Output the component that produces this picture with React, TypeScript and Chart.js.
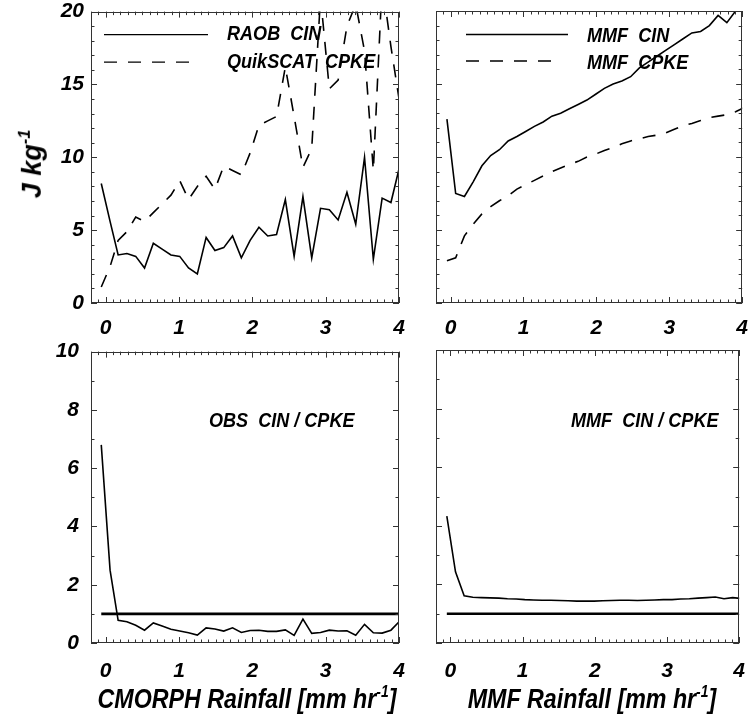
import React, { useEffect, useRef } from 'react';
import { Chart, registerables } from 'chart.js';
Chart.register(...registerables);

// ---------- data ----------
const xObs = [-0.06, 0.06, 0.17, 0.29, 0.41, 0.53, 0.65, 0.77, 0.89, 1.01, 1.13, 1.25, 1.37, 1.49, 1.61, 1.73, 1.85, 1.97, 2.09, 2.21, 2.33, 2.45, 2.57, 2.69, 2.81, 2.93, 3.05, 3.17, 3.29, 3.41, 3.53, 3.65, 3.77, 3.89, 4.01];
const raobCin = [8.2, 5.6, 3.3, 3.4, 3.2, 2.4, 4.1, 3.7, 3.3, 3.2, 2.4, 2.0, 4.5, 3.6, 3.8, 4.6, 3.1, 4.3, 5.2, 4.6, 4.7, 7.1, 3.2, 7.3, 3.1, 6.5, 6.4, 5.7, 7.6, 5.4, 10.0, 3.0, 7.2, 6.9, 9.4];
const quikscatCpke = [1.1, 2.5, 4.3, 4.9, 5.9, 5.6, 6.2, 6.8, 7.4, 8.4, 7.1, 8.0, 8.7, 7.8, 9.4, 9.1, 8.8, 10.3, 12.2, 12.5, 12.8, 16.2, 12.8, 9.3, 10.6, 21.0, 14.7, 15.3, 19.0, 20.5, 17.3, 9.1, 22.0, 17.6, 13.7];
const obsRatio = [6.8, 2.5, 0.78, 0.73, 0.61, 0.44, 0.69, 0.58, 0.47, 0.41, 0.35, 0.27, 0.52, 0.48, 0.41, 0.52, 0.36, 0.43, 0.44, 0.40, 0.40, 0.45, 0.26, 0.82, 0.33, 0.36, 0.44, 0.41, 0.42, 0.27, 0.64, 0.35, 0.34, 0.44, 0.75];

const xMmf = [-0.05, 0.07, 0.19, 0.31, 0.43, 0.55, 0.67, 0.79, 0.91, 1.03, 1.15, 1.27, 1.39, 1.51, 1.63, 1.75, 1.87, 1.99, 2.11, 2.23, 2.35, 2.47, 2.59, 2.71, 2.83, 2.95, 3.07, 3.19, 3.31, 3.43, 3.55, 3.67, 3.79, 3.91, 4.03];
const mmfCin = [12.6, 7.5, 7.3, 8.3, 9.4, 10.1, 10.5, 11.1, 11.4, 11.75, 12.1, 12.4, 12.8, 13.0, 13.3, 13.6, 13.9, 14.3, 14.7, 15.0, 15.2, 15.5, 16.1, 16.5, 16.9, 17.3, 17.7, 18.1, 18.5, 18.6, 19.0, 19.7, 19.2, 20.0, 20.7];
const mmfCpke = [2.9, 3.1, 4.6, 5.4, 6.1, 6.6, 7.0, 7.35, 7.8, 8.1, 8.4, 8.7, 9.0, 9.25, 9.5, 9.7, 10.0, 10.2, 10.45, 10.65, 10.9, 11.1, 11.25, 11.4, 11.5, 11.65, 11.9, 12.15, 12.3, 12.5, 12.7, 12.8, 12.9, 13.1, 13.4];
const mmfRatio = [4.33, 2.43, 1.61, 1.56, 1.55, 1.54, 1.53, 1.51, 1.5, 1.48, 1.47, 1.46, 1.46, 1.45, 1.44, 1.43, 1.43, 1.43, 1.44, 1.45, 1.46, 1.46, 1.45, 1.46, 1.47, 1.48, 1.48, 1.5, 1.51, 1.53, 1.55, 1.57, 1.51, 1.55, 1.52];

const obsRefX = [-0.06, 4.0];
const mmfRefX = [-0.05, 4.0];
const refLevel = [1.0, 1.0];

const xTicks = [0, 1, 2, 3, 4];
const yTicksTop = [0, 5, 10, 15, 20];
const yTicksBottom = [0, 2, 4, 6, 8, 10];

// ---------- styling ----------
const FAMILY = "'Liberation Sans', Arial, Helvetica, sans-serif";
const DASH = [13, 11];
const CONDENSE = 0.86;

const pts = (xs: number[], ys: number[]) => xs.map((x, i) => ({ x, y: ys[i] }));

const frameTicks = {
  id: 'frameTicks',
  afterDatasetsDraw(chart: any, _args: any, opts: any) {
    const { ctx, chartArea: a, scales } = chart;
    const x = scales.x, y = scales.y;
    ctx.save();
    ctx.strokeStyle = '#333';
    ctx.lineWidth = 1;
    ctx.strokeRect(Math.round(a.left) + 0.5, Math.round(a.top) + 0.5, Math.round(a.right - a.left) - 1, Math.round(a.bottom - a.top) - 1);
    const isMajor = (v: number, majors: number[]) => majors.some((m) => Math.abs(m - v) < 1e-6);
    ctx.beginPath();
    const nx = Math.round((x.max - x.min) / opts.xMinor);
    for (let i = 0; i <= nx; i++) {
      const v = x.min + i * opts.xMinor;
      const len = isMajor(v, opts.xMajor) ? 6 : 3.5;
      const px = Math.round(x.getPixelForValue(v)) + 0.5;
      ctx.moveTo(px, a.bottom); ctx.lineTo(px, a.bottom - len);
      ctx.moveTo(px, a.top); ctx.lineTo(px, a.top + len);
    }
    const ny = Math.round((y.max - y.min) / opts.yMinor);
    for (let i = 0; i <= ny; i++) {
      const v = y.min + i * opts.yMinor;
      const len = isMajor(v, opts.yMajor) ? 6 : 3.5;
      const py = Math.round(y.getPixelForValue(v)) + 0.5;
      ctx.moveTo(a.left, py); ctx.lineTo(a.left + len, py);
      ctx.moveTo(a.right, py); ctx.lineTo(a.right - len, py);
    }
    ctx.stroke();
    (opts.legend || []).forEach((l: any) => {
      ctx.beginPath();
      ctx.setLineDash(l.dash ? DASH : []);
      ctx.lineWidth = 1.4;
      ctx.strokeStyle = '#000';
      ctx.moveTo(a.left + l.x1, a.top + l.y);
      ctx.lineTo(a.left + l.x2, a.top + l.y);
      ctx.stroke();
    });
    ctx.restore();
  },
};

type PanelProps = {
  left: number; top: number; ml: number; mt: number; mr: number; mb: number;
  boxW: number; boxH: number; yMax: number; yMajor: number[]; showY: boolean;
  xPad: number; yPad: number; datasets: any[]; legend?: any[];
};

function Panel(p: PanelProps) {
  const ref = useRef<HTMLCanvasElement>(null);
  const W = p.ml + p.boxW + p.mr;
  const H = p.mt + p.boxH + p.mb;
  useEffect(() => {
    if (!ref.current) return;
    const font = { family: FAMILY, size: 21, style: 'italic' as const, weight: 'bold' as const };
    const chart = new Chart(ref.current, {
      type: 'line',
      data: { datasets: p.datasets },
      options: {
        animation: false,
        responsive: false,
        devicePixelRatio: 1,
        layout: { padding: { left: 0, top: p.mt, right: p.mr, bottom: 0 } },
        plugins: { legend: { display: false }, tooltip: { enabled: false }, frameTicks: { xMinor: 0.1, xMajor: xTicks, yMinor: 1, yMajor: p.yMajor, legend: p.legend } } as any,
        elements: { point: { radius: 0 }, line: { tension: 0 } },
        scales: {
          x: {
            type: 'linear', min: -0.2, max: 4,
            grid: { display: false }, border: { display: false },
            ticks: { font, color: '#000', padding: p.xPad, autoSkip: false, maxRotation: 0, callback: (v: any) => String(v) },
            afterBuildTicks: (s: any) => { s.ticks = xTicks.map((v) => ({ value: v })); },
            afterFit: (s: any) => { s.height = p.mb; },
          },
          y: {
            type: 'linear', min: 0, max: p.yMax,
            grid: { display: false }, border: { display: false },
            ticks: { display: p.showY, font, color: '#000', padding: p.yPad, callback: (v: any) => String(v) },
            afterBuildTicks: (s: any) => { s.ticks = p.yMajor.map((v) => ({ value: v })); },
            afterFit: (s: any) => { s.width = p.ml; },
          },
        },
      },
      plugins: [frameTicks],
    });
    return () => chart.destroy();
  }, []);
  return (
    <canvas ref={ref} width={W} height={H}
      style={{ position: 'absolute', left: p.left - p.ml, top: p.top - p.mt, width: W, height: H }} />
  );
}

const lineDs = (xs: number[], ys: number[], dashed = false, width = 1.6) => ({
  data: pts(xs, ys), borderColor: '#000', borderWidth: width, borderDash: dashed ? DASH : [],
  pointRadius: 0, fill: false, clip: 0,
});

const txt = (extra: any): any => ({
  position: 'absolute', fontFamily: FAMILY, fontStyle: 'italic', fontWeight: 'bold',
  color: '#000', whiteSpace: 'pre', lineHeight: 1, ...extra,
});
const sup: any = { fontSize: '60%', verticalAlign: '0.7em', lineHeight: 1 };
const leftLabel = (left: number, top: number, size: number) =>
  txt({ left, top, fontSize: size, transformOrigin: '0 50%', transform: `translateY(-50%) scaleX(${CONDENSE})` });

export default function App() {
  return (
    <div style={{ position: 'absolute', left: 0, top: 0, width: 753, height: 715, background: '#fff', overflow: 'hidden' }}>
      <Panel left={91} top={11} ml={91} mt={11} mr={15} mb={40} boxW={308} boxH={292} yMax={20}
        yMajor={yTicksTop} showY xPad={5} yPad={-1}
        datasets={[lineDs(xObs, raobCin), lineDs(xObs, quikscatCpke, true)]}
        legend={[{ x1: 13, x2: 117, y: 23, dash: false }, { x1: 13, x2: 104, y: 50.5, dash: true }]} />
      <Panel left={436} top={11} ml={20} mt={11} mr={9} mb={40} boxW={308} boxH={292} yMax={20}
        yMajor={yTicksTop} showY={false} xPad={5} yPad={-1}
        datasets={[lineDs(xMmf, mmfCin), lineDs(xMmf, mmfCpke, true)]}
        legend={[{ x1: 30, x2: 132, y: 23.5, dash: false }, { x1: 30, x2: 121, y: 50, dash: true }]} />
      <Panel left={91} top={350} ml={91} mt={15} mr={15} mb={40} boxW={308} boxH={293} yMax={10}
        yMajor={yTicksBottom} showY xPad={8} yPad={4}
        datasets={[lineDs(xObs, obsRatio), lineDs(obsRefX, refLevel, false, 2.6)]} />
      <Panel left={436} top={350} ml={20} mt={15} mr={9} mb={40} boxW={308} boxH={293} yMax={10}
        yMajor={yTicksBottom} showY={false} xPad={8} yPad={4}
        datasets={[lineDs(xMmf, mmfRatio), lineDs(mmfRefX, refLevel, false, 2.6)]} />

      <div style={leftLabel(227, 32, 21)}>RAOB  CIN</div>
      <div style={leftLabel(227, 60, 21)}>QuikSCAT  CPKE</div>
      <div style={leftLabel(587, 34, 21)}>MMF  CIN</div>
      <div style={leftLabel(587, 61, 21)}>MMF  CPKE</div>
      <div style={leftLabel(209, 419, 21)}>OBS  CIN / CPKE</div>
      <div style={leftLabel(571, 419, 21)}>MMF  CIN / CPKE</div>

      <div style={txt({ left: 31, top: 164, fontSize: 27, transform: 'translate(-50%, -50%) rotate(-90deg)' })}>J kg<span style={sup}>-1</span></div>
      <div style={txt({ left: 247, top: 698, fontSize: 27, transform: `translate(-50%, -50%) scaleX(${CONDENSE})` })}>CMORPH Rainfall [mm hr<span style={sup}>-1</span>]</div>
      <div style={txt({ left: 592, top: 698, fontSize: 27, transform: `translate(-50%, -50%) scaleX(${CONDENSE})` })}>MMF Rainfall [mm hr<span style={sup}>-1</span>]</div>
    </div>
  );
}
